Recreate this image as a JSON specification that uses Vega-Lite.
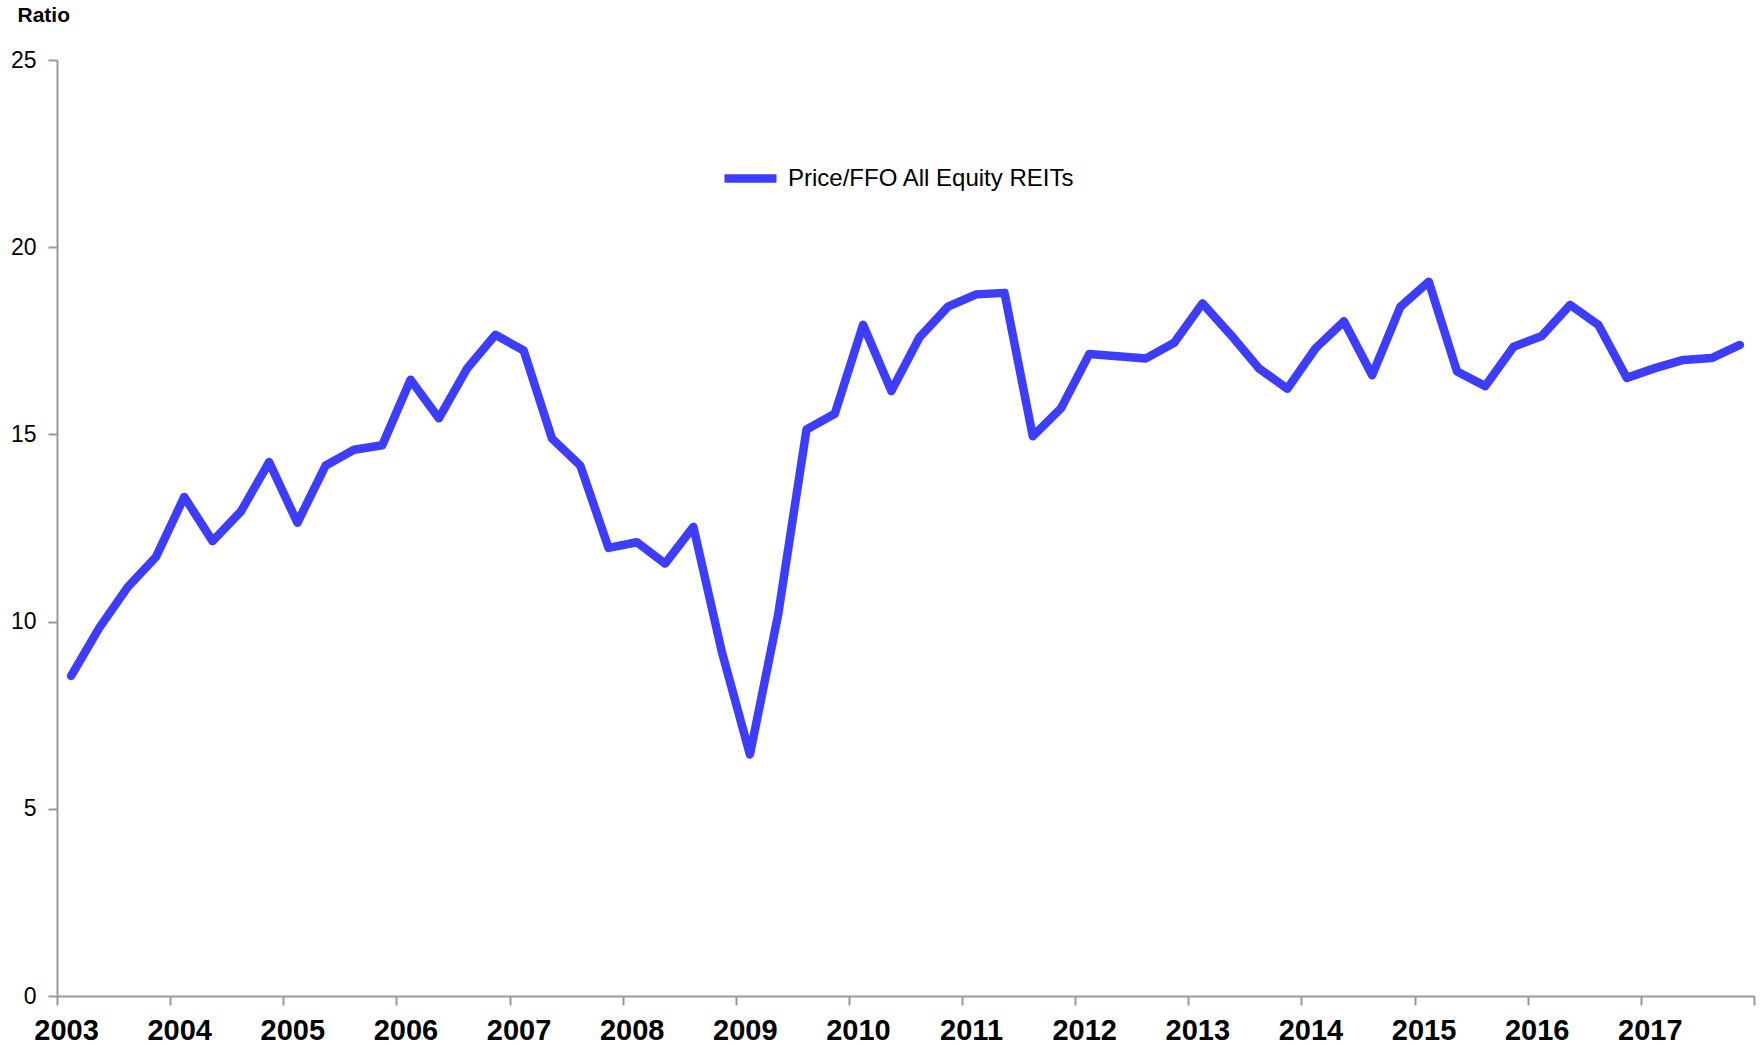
{
  "$schema": "https://vega.github.io/schema/vega-lite/v6.json",
  "width": 1697,
  "height": 936,
  "autosize": {"type": "none"},
  "padding": {"left": 57, "top": 60, "right": 10, "bottom": 48},
  "background": "white",
  "config": {"view": {"stroke": null}, "font": "Liberation Sans"},
  "data": {
    "values": [
      {"t": 2003.125, "v": 8.55, "s": "Price/FFO All Equity REITs"},
      {"t": 2003.375, "v": 9.84, "s": "Price/FFO All Equity REITs"},
      {"t": 2003.625, "v": 10.92, "s": "Price/FFO All Equity REITs"},
      {"t": 2003.875, "v": 11.73, "s": "Price/FFO All Equity REITs"},
      {"t": 2004.125, "v": 13.33, "s": "Price/FFO All Equity REITs"},
      {"t": 2004.375, "v": 12.15, "s": "Price/FFO All Equity REITs"},
      {"t": 2004.625, "v": 12.94, "s": "Price/FFO All Equity REITs"},
      {"t": 2004.875, "v": 14.26, "s": "Price/FFO All Equity REITs"},
      {"t": 2005.125, "v": 12.64, "s": "Price/FFO All Equity REITs"},
      {"t": 2005.375, "v": 14.17, "s": "Price/FFO All Equity REITs"},
      {"t": 2005.625, "v": 14.59, "s": "Price/FFO All Equity REITs"},
      {"t": 2005.875, "v": 14.71, "s": "Price/FFO All Equity REITs"},
      {"t": 2006.125, "v": 16.46, "s": "Price/FFO All Equity REITs"},
      {"t": 2006.375, "v": 15.43, "s": "Price/FFO All Equity REITs"},
      {"t": 2006.625, "v": 16.76, "s": "Price/FFO All Equity REITs"},
      {"t": 2006.875, "v": 17.66, "s": "Price/FFO All Equity REITs"},
      {"t": 2007.125, "v": 17.24, "s": "Price/FFO All Equity REITs"},
      {"t": 2007.375, "v": 14.89, "s": "Price/FFO All Equity REITs"},
      {"t": 2007.625, "v": 14.17, "s": "Price/FFO All Equity REITs"},
      {"t": 2007.875, "v": 11.97, "s": "Price/FFO All Equity REITs"},
      {"t": 2008.125, "v": 12.12, "s": "Price/FFO All Equity REITs"},
      {"t": 2008.375, "v": 11.55, "s": "Price/FFO All Equity REITs"},
      {"t": 2008.625, "v": 12.53, "s": "Price/FFO All Equity REITs"},
      {"t": 2008.875, "v": 9.21, "s": "Price/FFO All Equity REITs"},
      {"t": 2009.125, "v": 6.45, "s": "Price/FFO All Equity REITs"},
      {"t": 2009.375, "v": 10.2, "s": "Price/FFO All Equity REITs"},
      {"t": 2009.625, "v": 15.13, "s": "Price/FFO All Equity REITs"},
      {"t": 2009.875, "v": 15.55, "s": "Price/FFO All Equity REITs"},
      {"t": 2010.125, "v": 17.93, "s": "Price/FFO All Equity REITs"},
      {"t": 2010.375, "v": 16.16, "s": "Price/FFO All Equity REITs"},
      {"t": 2010.625, "v": 17.6, "s": "Price/FFO All Equity REITs"},
      {"t": 2010.875, "v": 18.41, "s": "Price/FFO All Equity REITs"},
      {"t": 2011.125, "v": 18.74, "s": "Price/FFO All Equity REITs"},
      {"t": 2011.375, "v": 18.78, "s": "Price/FFO All Equity REITs"},
      {"t": 2011.625, "v": 14.95, "s": "Price/FFO All Equity REITs"},
      {"t": 2011.875, "v": 15.7, "s": "Price/FFO All Equity REITs"},
      {"t": 2012.125, "v": 17.15, "s": "Price/FFO All Equity REITs"},
      {"t": 2012.375, "v": 17.09, "s": "Price/FFO All Equity REITs"},
      {"t": 2012.625, "v": 17.03, "s": "Price/FFO All Equity REITs"},
      {"t": 2012.875, "v": 17.45, "s": "Price/FFO All Equity REITs"},
      {"t": 2013.125, "v": 18.5, "s": "Price/FFO All Equity REITs"},
      {"t": 2013.375, "v": 17.66, "s": "Price/FFO All Equity REITs"},
      {"t": 2013.625, "v": 16.76, "s": "Price/FFO All Equity REITs"},
      {"t": 2013.875, "v": 16.22, "s": "Price/FFO All Equity REITs"},
      {"t": 2014.125, "v": 17.3, "s": "Price/FFO All Equity REITs"},
      {"t": 2014.375, "v": 18.02, "s": "Price/FFO All Equity REITs"},
      {"t": 2014.625, "v": 16.58, "s": "Price/FFO All Equity REITs"},
      {"t": 2014.875, "v": 18.41, "s": "Price/FFO All Equity REITs"},
      {"t": 2015.125, "v": 19.08, "s": "Price/FFO All Equity REITs"},
      {"t": 2015.375, "v": 16.68, "s": "Price/FFO All Equity REITs"},
      {"t": 2015.625, "v": 16.29, "s": "Price/FFO All Equity REITs"},
      {"t": 2015.875, "v": 17.34, "s": "Price/FFO All Equity REITs"},
      {"t": 2016.125, "v": 17.63, "s": "Price/FFO All Equity REITs"},
      {"t": 2016.375, "v": 18.46, "s": "Price/FFO All Equity REITs"},
      {"t": 2016.625, "v": 17.92, "s": "Price/FFO All Equity REITs"},
      {"t": 2016.875, "v": 16.51, "s": "Price/FFO All Equity REITs"},
      {"t": 2017.125, "v": 16.77, "s": "Price/FFO All Equity REITs"},
      {"t": 2017.375, "v": 16.99, "s": "Price/FFO All Equity REITs"},
      {"t": 2017.625, "v": 17.04, "s": "Price/FFO All Equity REITs"},
      {"t": 2017.875, "v": 17.39, "s": "Price/FFO All Equity REITs"}
    ]
  },
  "mark": {"type": "line", "strokeWidth": 8.5, "strokeCap": "round", "strokeJoin": "round"},
  "encoding": {
    "x": {
      "field": "t",
      "type": "quantitative",
      "scale": {"domain": [2003, 2018], "nice": false, "zero": false},
      "axis": {
        "values": [2003, 2004, 2005, 2006, 2007, 2008, 2009, 2010, 2011, 2012, 2013, 2014, 2015, 2016, 2017, 2018],
        "labelExpr": "datum.value == 2018 ? '' : format(datum.value, 'd')",
        "title": null,
        "grid": false,
        "domainColor": "#999999",
        "domainWidth": 2,
        "tickColor": "#999999",
        "tickWidth": 2,
        "tickSize": 9,
        "labelFont": "Liberation Sans",
        "labelFontWeight": "bold",
        "labelFontSize": 29,
        "labelColor": "#000000",
        "labelPadding": 11,
        "labelOffset": 9,
        "labelFlush": false,
        "labelOverlap": false
      }
    },
    "y": {
      "field": "v",
      "type": "quantitative",
      "scale": {"domain": [0, 25], "nice": false},
      "axis": {
        "values": [0, 5, 10, 15, 20, 25],
        "title": "Ratio",
        "titleAngle": 0,
        "titleX": -40,
        "titleY": -39,
        "titleAlign": "left",
        "titleBaseline": "alphabetic",
        "titleFont": "Liberation Sans",
        "titleFontWeight": "bold",
        "titleFontSize": 21,
        "titleColor": "#000000",
        "grid": false,
        "domainColor": "#999999",
        "domainWidth": 2,
        "tickColor": "#999999",
        "tickWidth": 2,
        "tickSize": 9,
        "labelFont": "Liberation Sans",
        "labelFontSize": 23,
        "labelColor": "#000000",
        "labelPadding": 12,
        "labelFlush": false,
        "labelOverlap": false
      }
    },
    "color": {
      "field": "s",
      "type": "nominal",
      "scale": {"range": ["#3d3dff"]},
      "legend": {
        "title": null,
        "orient": "none",
        "legendX": 663,
        "legendY": 88,
        "padding": 0,
        "symbolType": "stroke",
        "symbolSize": 2704,
        "symbolStrokeWidth": 8.5,
        "labelFont": "Liberation Sans",
        "labelFontSize": 24,
        "labelColor": "#000000",
        "labelOffset": 7,
        "labelLimit": 0
      }
    }
  }
}
